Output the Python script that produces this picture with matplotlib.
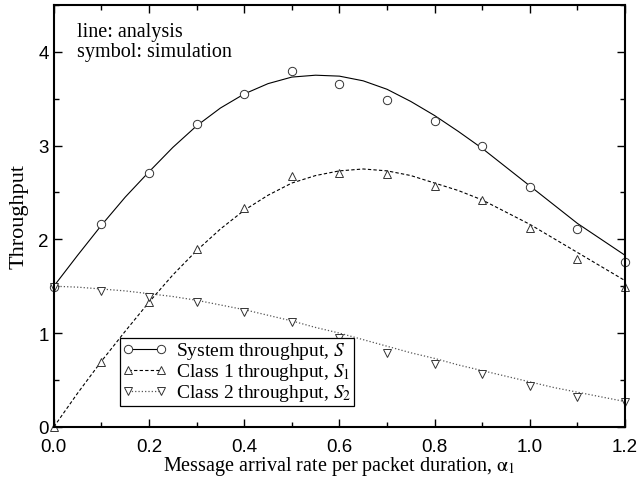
import matplotlib
matplotlib.use("Agg")
import matplotlib.pyplot as plt
from matplotlib.lines import Line2D
from matplotlib.ticker import MultipleLocator, FormatStrFormatter

plt.rcParams['mathtext.fontset'] = 'stix'

# simulation points
x_sim = [0.0, 0.1, 0.2, 0.3, 0.4, 0.5, 0.6, 0.7, 0.8, 0.9, 1.0, 1.1, 1.2]
s_sim = [1.49, 2.16, 2.71, 3.23, 3.55, 3.80, 3.66, 3.49, 3.26, 2.99, 2.56, 2.11, 1.76]
s1_sim = [0.0, 0.69, 1.33, 1.90, 2.33, 2.67, 2.71, 2.70, 2.57, 2.42, 2.12, 1.79, 1.49]
s2_sim = [1.49, 1.45, 1.39, 1.33, 1.23, 1.12, 0.95, 0.79, 0.67, 0.56, 0.44, 0.32, 0.26]

# analysis curves
x_an = [0.0, 0.05, 0.1, 0.15, 0.2, 0.25, 0.3, 0.35, 0.4, 0.45, 0.5, 0.55, 0.6,
        0.65, 0.7, 0.75, 0.8, 0.85, 0.9, 0.95, 1.0, 1.05, 1.1, 1.15, 1.2]
s_an = [1.50, 1.83, 2.15, 2.45, 2.72, 2.98, 3.21, 3.40, 3.55, 3.66, 3.73, 3.75, 3.74,
        3.69, 3.60, 3.47, 3.32, 3.15, 2.97, 2.77, 2.57, 2.37, 2.17, 2.00, 1.83]
s1_an = [0.0, 0.36, 0.70, 1.02, 1.33, 1.62, 1.88, 2.11, 2.31, 2.47, 2.60, 2.68, 2.73,
         2.75, 2.73, 2.68, 2.60, 2.52, 2.42, 2.29, 2.16, 2.01, 1.86, 1.71, 1.56]
s2_an = [1.50, 1.49, 1.47, 1.45, 1.42, 1.39, 1.35, 1.30, 1.25, 1.19, 1.13, 1.06, 1.00,
         0.93, 0.86, 0.79, 0.73, 0.66, 0.60, 0.54, 0.48, 0.42, 0.37, 0.32, 0.27]

labels = ['System throughput, $S$', 'Class 1 throughput, $S_1$', 'Class 2 throughput, $S_2$']

fig = plt.figure(figsize=(6.41, 4.89), dpi=100)
ax = fig.add_axes([0.084, 0.125, 0.891, 0.863])

ax.plot(x_an, s_an, '-', color='black', lw=0.8)
ax.plot(x_an, s1_an, '--', color='black', lw=0.8, dashes=(3, 2))
ax.plot(x_an, s2_an, ':', color='#555555', lw=0.9)
mk = dict(mfc='white', mec='#333333', mew=0.7, ms=6, ls='none', clip_on=False)
ax.plot(x_sim, s_sim, marker='o', **mk)
ax.plot(x_sim, s1_sim, marker='^', **mk)
ax.plot(x_sim, s2_sim, marker='v', **mk)

handles = [
    Line2D([], [], color='black', lw=0.8, ls='-', marker='o', mfc='white', mec='#333333', ms=6, mew=0.7),
    Line2D([], [], color='black', lw=0.8, ls='--', dashes=(3, 2), marker='^', mfc='white', mec='#333333', ms=6, mew=0.7),
    Line2D([], [], color='#555555', lw=0.9, ls=':', marker='v', mfc='white', mec='#333333', ms=6, mew=0.7),
]
leg = ax.legend(handles, labels, loc='lower left', bbox_to_anchor=(0.116, 0.05),
                borderaxespad=0, numpoints=2, handlelength=2.3, handletextpad=0.45,
                borderpad=0.12, labelspacing=0.0, handleheight=0.6, fancybox=False,
                edgecolor='black', framealpha=1,
                prop={'family': 'Liberation Serif', 'size': 14})
leg.get_frame().set_linewidth(0.9)

ax.text(0.04, 0.96, 'line: analysis\nsymbol: simulation', transform=ax.transAxes,
        family='Liberation Serif', fontsize=14.5, va='top', ha='left', linespacing=1.1)

ax.set_xlim(0, 1.2)
ax.set_ylim(0, 4.5)
ax.xaxis.set_major_locator(MultipleLocator(0.2))
ax.xaxis.set_minor_locator(MultipleLocator(0.1))
ax.yaxis.set_major_locator(MultipleLocator(1))
ax.yaxis.set_minor_locator(MultipleLocator(0.5))
ax.tick_params(which='both', direction='in', top=True, right=True, width=1.0)
ax.tick_params(which='major', length=6, labelsize=13.5)
ax.tick_params(axis='x', which='major', pad=8)
ax.tick_params(which='minor', length=3.5)
for lab in ax.get_xticklabels() + ax.get_yticklabels():
    lab.set_family('Liberation Sans')
ax.xaxis.set_major_formatter(FormatStrFormatter('%.1f'))
for sp in ax.spines.values():
    sp.set_linewidth(1.5)

ax.set_xlabel(r'Message arrival rate per packet duration, $\mathrm{\alpha}_1$',
              family='Liberation Serif', fontsize=14.5, labelpad=-1)
ax.set_ylabel('Throughput', family='Liberation Serif', fontsize=16, labelpad=7)

fig.savefig('out.png', dpi=100)
